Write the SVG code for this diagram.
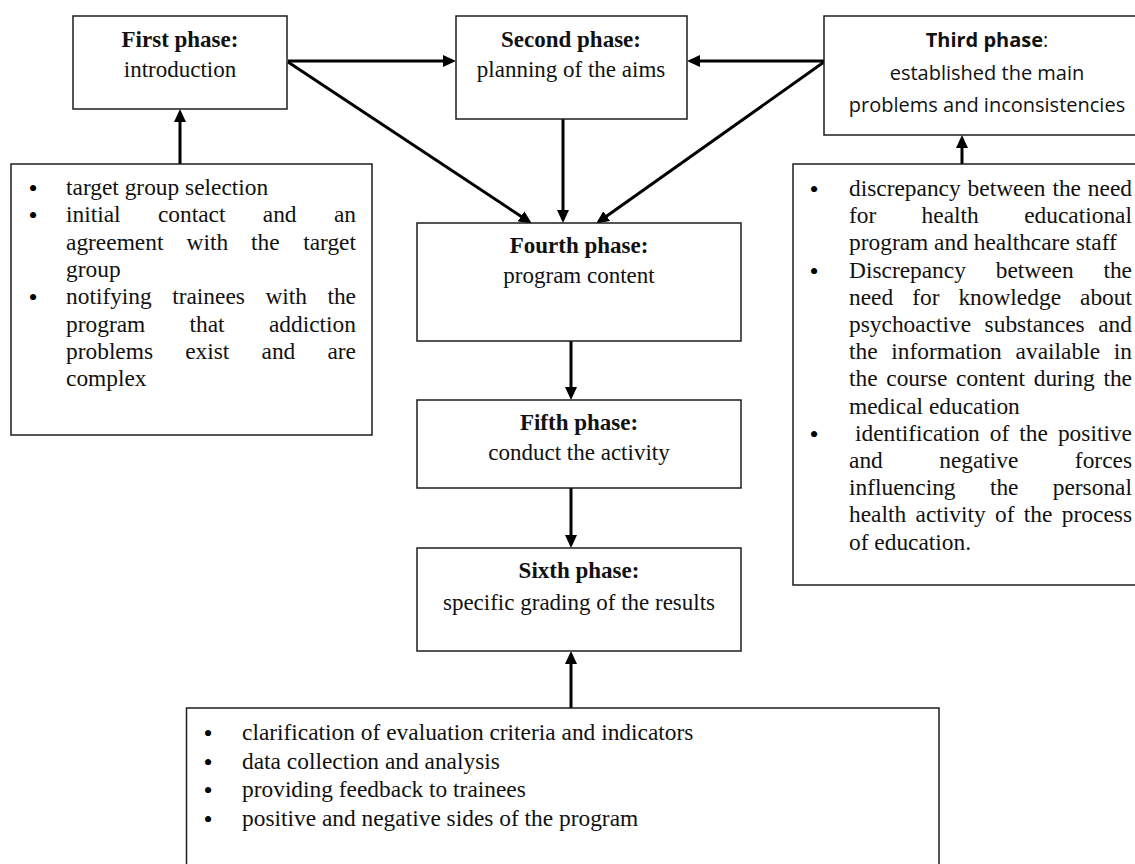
<svg xmlns="http://www.w3.org/2000/svg" width="1135" height="864" viewBox="0 0 1135 864">
<defs>
<style>
.box{fill:#fff;stroke:#1e1e1e;stroke-width:1.5}
.t{font-family:"Liberation Serif","Times New Roman",serif;font-size:23.4px;fill:#111}
.bu{font-family:"Liberation Serif","Times New Roman",serif;font-size:26px;fill:#000}
.tc{font-family:"Liberation Serif","Times New Roman",serif;font-size:23px;fill:#111;text-anchor:middle}
.b{font-weight:bold}
.s{font-family:"Open Sans","Noto Sans",sans-serif;font-size:20px;fill:#111;text-anchor:middle}
.e{text-anchor:end}
.con{stroke:#000;stroke-width:3;fill:none;marker-end:url(#ah)}
</style>
<marker id="ah" markerUnits="userSpaceOnUse" markerWidth="13" markerHeight="12" refX="9" refY="6" orient="auto">
<path d="M0,0 L13,6 L0,12 z" fill="#000"/>
</marker>
</defs>
<rect width="1135" height="864" fill="#fff"/>

<g id="connectors">
<line class="con" x1="180" y1="164" x2="180" y2="113"/>
<line class="con" x1="288" y1="61" x2="452" y2="61"/>
<line class="con" x1="288" y1="62" x2="528.5" y2="221.3"/>
<line class="con" x1="824" y1="61" x2="691" y2="61"/>
<line class="con" x1="824" y1="62" x2="599.4" y2="221.3"/>
<line class="con" x1="563" y1="119" x2="563" y2="219"/>
<line class="con" x1="962" y1="164" x2="962" y2="139"/>
<line class="con" x1="571" y1="341" x2="571" y2="396"/>
<line class="con" x1="571" y1="488" x2="571" y2="544"/>
<line class="con" x1="571" y1="708" x2="571" y2="655"/>
</g>

<g id="first-phase">
<rect class="box" x="73" y="16" width="214" height="93"/>
<text class="tc b" x="180" y="47">First phase:</text>
<text class="tc" x="180" y="77">introduction</text>
</g>

<g id="second-phase">
<rect class="box" x="456" y="16" width="231" height="103"/>
<text class="tc b" x="571" y="47">Second phase:</text>
<text class="tc" x="571" y="77">planning of the aims</text>
</g>

<g id="third-phase">
<rect class="box" x="824" y="16" width="330" height="119"/>
<text class="s" x="987" y="47"><tspan font-weight="bold">Third phase</tspan>:</text>
<text class="s" x="987" y="80">established the main</text>
<text class="s" x="987" y="112">problems and inconsistencies</text>
</g>

<g id="first-details">
<rect class="box" x="11" y="164" width="361" height="271"/>
<text class="bu" x="28.5" y="197">•</text>
<text class="bu" x="28.5" y="224.3">•</text>
<text class="bu" x="28.5" y="306.2">•</text>
<text class="t" x="66" y="195">target group selection</text>
<text class="t" y="222.3"><tspan x="66">initial</tspan><tspan x="157.9">contact</tspan><tspan x="262.8">and</tspan><tspan x="356" class="e">an</tspan></text>
<text class="t" y="249.6"><tspan x="66">agreement</tspan><tspan x="186.5">with</tspan><tspan x="251.1">the</tspan><tspan x="356" class="e">target</tspan></text>
<text class="t" x="66" y="276.9">group</text>
<text class="t" y="304.2"><tspan x="66">notifying</tspan><tspan x="172.2">trainees</tspan><tspan x="265.4">with</tspan><tspan x="356" class="e">the</tspan></text>
<text class="t" y="331.5"><tspan x="66">program</tspan><tspan x="189.5">that</tspan><tspan x="356" class="e">addiction</tspan></text>
<text class="t" y="358.8"><tspan x="66">problems</tspan><tspan x="185.2">exist</tspan><tspan x="261.5">and</tspan><tspan x="356" class="e">are</tspan></text>
<text class="t" x="66" y="386.1">complex</text>
</g>

<g id="third-details">
<rect class="box" x="793" y="164" width="360" height="421"/>
<text class="bu" x="809.5" y="198">•</text>
<text class="bu" x="809.5" y="279.6">•</text>
<text class="bu" x="809.5" y="442.8">•</text>
<text class="t" y="196"><tspan x="849">discrepancy</tspan><tspan x="967.6">between</tspan><tspan x="1052.4">the</tspan><tspan x="1132" class="e">need</tspan></text>
<text class="t" y="223.2"><tspan x="849">for</tspan><tspan x="921.6">health</tspan><tspan x="1132" class="e">educational</tspan></text>
<text class="t" x="849" y="250.4">program and healthcare staff</text>
<text class="t" y="277.6"><tspan x="849">Discrepancy</tspan><tspan x="995.7">between</tspan><tspan x="1132" class="e">the</tspan></text>
<text class="t" y="304.8"><tspan x="849">need</tspan><tspan x="912.2">for</tspan><tspan x="958.4">knowledge</tspan><tspan x="1132" class="e">about</tspan></text>
<text class="t" y="332"><tspan x="849">psychoactive</tspan><tspan x="984.6">substances</tspan><tspan x="1132" class="e">and</tspan></text>
<text class="t" y="359.2"><tspan x="849">the</tspan><tspan x="891.3">information</tspan><tspan x="1015.6">available</tspan><tspan x="1132" class="e">in</tspan></text>
<text class="t" y="386.4"><tspan x="849">the</tspan><tspan x="886.3">course</tspan><tspan x="956.1">content</tspan><tspan x="1033.7">during</tspan><tspan x="1132" class="e">the</tspan></text>
<text class="t" x="849" y="413.6">medical education</text>
<text class="t" y="440.8"><tspan x="855">identification</tspan><tspan x="989.8">of</tspan><tspan x="1019.3">the</tspan><tspan x="1132" class="e">positive</tspan></text>
<text class="t" y="468"><tspan x="849">and</tspan><tspan x="939.2">negative</tspan><tspan x="1132" class="e">forces</tspan></text>
<text class="t" y="495.2"><tspan x="849">influencing</tspan><tspan x="989.9">the</tspan><tspan x="1132" class="e">personal</tspan></text>
<text class="t" y="522.4"><tspan x="849">health</tspan><tspan x="915.5">activity</tspan><tspan x="995">of</tspan><tspan x="1023.8">the</tspan><tspan x="1132" class="e">process</tspan></text>
<text class="t" x="849" y="549.6">of education.</text>
</g>

<g id="fourth-phase">
<rect class="box" x="417" y="223" width="324" height="118"/>
<text class="tc b" x="579" y="253">Fourth phase:</text>
<text class="tc" x="579" y="283">program content</text>
</g>

<g id="fifth-phase">
<rect class="box" x="417" y="400" width="324" height="88"/>
<text class="tc b" x="579" y="430">Fifth phase:</text>
<text class="tc" x="579" y="460">conduct the activity</text>
</g>

<g id="sixth-phase">
<rect class="box" x="417" y="548" width="324" height="103"/>
<text class="tc b" x="579" y="578">Sixth phase:</text>
<text class="tc" x="579" y="610">specific grading of the results</text>
</g>

<g id="sixth-details">
<rect class="box" x="186.5" y="708" width="752.5" height="180"/>
<text class="bu" x="203.5" y="742">•</text>
<text class="bu" x="203.5" y="770.5">•</text>
<text class="bu" x="203.5" y="799">•</text>
<text class="bu" x="203.5" y="827.5">•</text>
<text class="t" x="242" y="740">clarification of evaluation criteria and indicators</text>
<text class="t" x="242" y="768.5">data collection and analysis</text>
<text class="t" x="242" y="797">providing feedback to trainees</text>
<text class="t" x="242" y="825.5">positive and negative sides of the program</text>
</g>
</svg>
